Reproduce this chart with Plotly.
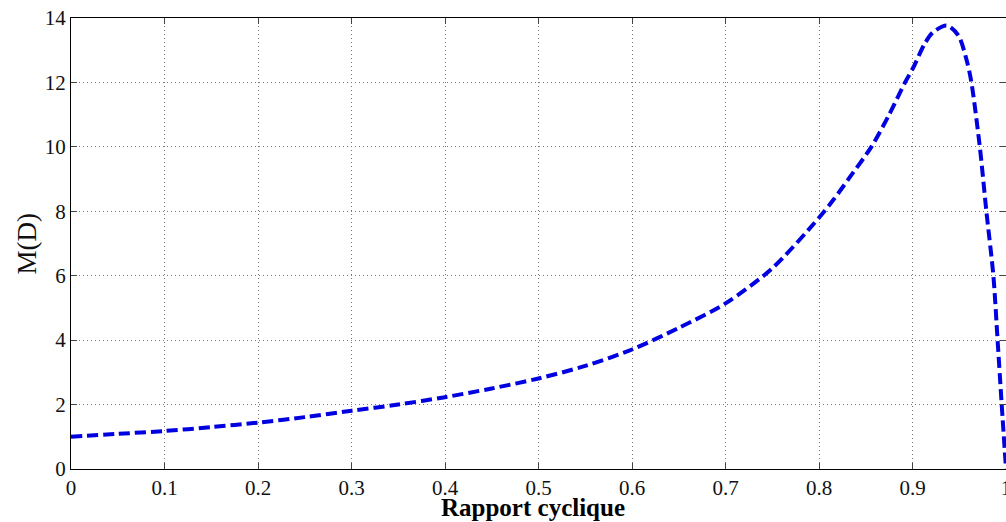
import plotly.graph_objects as go

# Duty cycle D and gain M(D)
duty = [0, 0.05, 0.1, 0.15, 0.2, 0.25, 0.3, 0.35, 0.4, 0.45, 0.5, 0.55, 0.6,
        0.65, 0.7, 0.75, 0.8, 0.815, 0.833, 0.856, 0.875, 0.892, 0.901, 0.913,
        0.922, 0.9366, 0.949, 0.958, 0.963, 0.972, 0.979, 0.9865, 0.991,
        0.9954, 1.0]
gain = [1.0, 1.09, 1.18, 1.3, 1.44, 1.61, 1.81, 2.0, 2.23, 2.5, 2.81, 3.2, 3.71,
        4.38, 5.14, 6.23, 7.8, 8.34, 9.06, 10.0, 11.0, 12.0, 12.47, 13.2,
        13.56, 13.77, 13.46, 12.68, 12.0, 10.0, 8.0, 6.0, 4.0,
        2.0, 0.0]

x_ticks = [0, 0.1, 0.2, 0.3, 0.4, 0.5, 0.6, 0.7, 0.8, 0.9, 1]
x_labels = ["0", "0.1", "0.2", "0.3", "0.4", "0.5", "0.6", "0.7", "0.8", "0.9", "1"]
y_ticks = [0, 2, 4, 6, 8, 10, 12, 14]

SERIF = "Liberation Serif, Times New Roman, serif"

fig = go.Figure()
fig.add_trace(go.Scatter(
    x=duty, y=gain, mode="lines",
    line=dict(color="#0000e0", width=4, dash="11px,5px", shape="spline", smoothing=0.8),
    showlegend=False, cliponaxis=False,
))

axis_common = dict(
    showline=True, linecolor="black", linewidth=1, mirror="ticks",
    ticks="inside", ticklen=6, tickcolor="#444",
    showgrid=True, gridcolor="#777", griddash="1px,3px", gridwidth=1,
    zeroline=False, automargin=False, ticklabeloverflow="allow",
    tickfont=dict(family=SERIF, size=21, color="#111"),
)

fig.update_xaxes(range=[0, 1], tickvals=x_ticks, ticktext=x_labels, **axis_common)
fig.update_yaxes(range=[0, 14], tickvals=y_ticks, **axis_common)

# axis titles as annotations so they sit where the reference has them
fig.add_annotation(
    text="<b>Rapport cyclique</b>", xref="paper", yref="paper", x=0.494, y=0,
    yshift=-38, xanchor="center", yanchor="middle", showarrow=False,
    font=dict(family=SERIF, size=25, color="black"),
)
fig.add_annotation(
    text="M(D)", xref="paper", yref="paper", x=0, y=0.5, xshift=-45,
    textangle=-90, xanchor="center", yanchor="middle", showarrow=False,
    font=dict(family=SERIF, size=27, color="#111"),
)

fig.update_layout(
    width=1006, height=522,
    margin=dict(l=71, r=0, t=18, b=53),
    paper_bgcolor="white", plot_bgcolor="white",
)

# drop the browser's default 8px body margin so the figure fills the window
fig.write_html(
    "out.html",
    config={"displayModeBar": False},
    post_script="document.body.style.margin='0';document.body.style.overflow='hidden';",
)
